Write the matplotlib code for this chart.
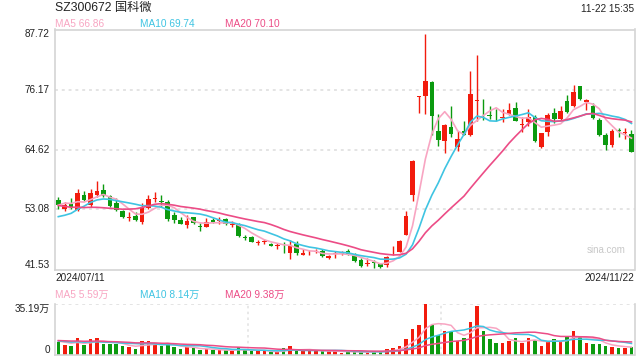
#!/usr/bin/env python
# -*- coding: utf-8 -*-
"""Daily K-line of SZ300672 with MA5/10/20 and a volume panel."""

import matplotlib
matplotlib.use("Agg")
import matplotlib.pyplot as plt
import numpy as np
import pandas as pd

plt.rcParams["font.family"] = ["Liberation Sans", "Noto Sans CJK SC", "DejaVu Sans"]

UP = "#f21b0d"
DOWN = "#0b9a0f"
MA_COLORS = {"MA5": "#f8a5c2", "MA10": "#3fc4e2", "MA20": "#ec4c86"}
BORDER = "#d4d4d4"
GRID = "#e4e4e4"

TITLE = "SZ300672 国科微"
STAMP = "11-22 15:35"
START_LABEL = "2024/07/11"
END_LABEL = "2024/11/22"
PRICE_TICKS = [87.72, 76.17, 64.62, 53.08, 41.53]
VOL_MAX = 35.19  # 万手
PRICE_MA_TEXT = ["MA5 66.86", "MA10 69.74", "MA20 70.10"]
VOL_MA_TEXT = ["MA5 5.59万", "MA10 8.14万", "MA20 9.38万"]

# closes before the visible window (only feed the moving averages)
pre_close = [57.5, 56.8, 55.9, 56.4, 55.2, 56.9, 57.3, 55.8, 54.6, 53.6,
             51.2, 49.8, 48.6, 48.9, 49.0, 51.9, 53.8, 54.6, 55.3]
pre_volume = [10.2, 9.8, 11.4, 10.6, 9.5, 10.9, 12.1, 10.3, 9.7, 10.4,
              9.9, 10.8, 9.6, 10.1, 9.4, 10.7, 9.8, 9.2, 10.0]

open_ = [54.91, 53.12, 54.08, 52.98, 55.87, 54.00, 55.87, 56.83, 55.62, 54.38,
         52.79, 51.50, 51.83, 50.73, 53.31, 55.10, 54.71, 54.46, 52.02, 51.06,
         50.15, 51.58, 49.90, 49.77, 51.06, 50.86, 51.25, 50.12, 50.23, 47.78,
         47.85, 46.63, 46.82, 46.44, 45.99, 45.57, 44.65, 46.44, 44.38, 44.45,
         44.95, 45.09, 43.68, 44.57, 44.57, 45.03, 44.32, 43.36, 42.65, 42.91,
         42.53, 42.40, 44.42, 44.99, 48.23, 55.93, 74.80, 74.98, 77.56, 68.13,
         66.32, 68.90, 65.05, 68.13, 67.47, 73.96, 72.48, 71.26, 70.55, 70.74,
         71.46, 72.61, 69.40, 69.98, 70.94, 65.16, 68.05, 71.59, 70.44, 74.02,
         72.99, 76.84, 73.82, 72.99, 70.30, 67.42, 65.49, 68.32, 67.80, 67.61]
high = [55.42, 54.58, 55.23, 56.96, 56.58, 57.08, 58.56, 57.93, 55.81, 55.35,
        52.98, 52.60, 52.60, 54.38, 55.81, 56.50, 55.87, 54.91, 52.65, 51.69,
        52.02, 51.69, 50.54, 51.38, 51.50, 51.69, 51.50, 50.92, 50.42, 48.17,
        47.99, 47.21, 47.46, 46.57, 46.57, 46.88, 47.21, 47.02, 45.42, 45.28,
        45.57, 45.42, 44.32, 45.15, 45.09, 45.47, 44.65, 43.68, 43.68, 43.36,
        42.84, 44.13, 46.05, 47.21, 52.85, 62.60, 75.00, 86.85, 77.75, 71.46,
        69.53, 72.94, 68.24, 70.05, 79.67, 82.75, 74.34, 72.94, 72.48, 72.48,
        73.57, 73.71, 70.94, 72.36, 71.26, 67.86, 71.59, 72.56, 72.99, 75.11,
        77.04, 76.84, 74.29, 73.63, 70.63, 67.74, 68.51, 68.70, 68.70, 68.38]
low = [53.12, 52.79, 53.23, 52.73, 54.77, 53.50, 55.42, 55.54, 53.62, 52.73,
       51.50, 50.80, 50.92, 50.29, 53.12, 54.58, 53.50, 50.86, 50.42, 50.23,
       49.46, 50.29, 49.00, 49.77, 50.54, 50.23, 50.10, 49.65, 47.73, 47.15,
       46.82, 46.30, 46.44, 46.05, 45.47, 44.65, 43.49, 44.32, 44.38, 44.38,
       44.65, 43.88, 43.55, 43.68, 44.38, 44.38, 42.97, 41.95, 42.26, 41.88,
       41.87, 42.07, 44.32, 44.90, 48.11, 54.66, 71.65, 71.46, 67.47, 65.24,
       63.95, 66.97, 64.39, 67.36, 67.16, 70.05, 70.36, 70.49, 70.17, 69.92,
       71.21, 70.10, 68.05, 69.15, 66.13, 64.97, 67.22, 69.78, 70.30, 71.71,
       72.75, 74.15, 72.23, 70.44, 67.22, 64.53, 65.05, 67.09, 66.65, 64.10]
close = [53.94, 53.88, 53.50, 56.31, 54.91, 56.25, 56.64, 55.73, 53.75, 52.92,
         51.69, 51.62, 51.06, 53.50, 55.04, 55.35, 54.46, 51.19, 51.06, 50.34,
         50.86, 50.54, 49.71, 50.73, 50.73, 50.99, 50.23, 50.25, 48.03, 47.59,
         46.88, 46.76, 46.95, 46.11, 46.18, 45.38, 46.25, 44.65, 44.70, 44.57,
         45.09, 44.13, 44.13, 44.70, 44.70, 44.51, 43.17, 42.26, 42.78, 42.78,
         42.07, 43.88, 44.51, 47.02, 51.77, 62.47, 74.98, 77.75, 71.01, 66.51,
         69.28, 67.61, 66.65, 67.47, 75.31, 74.02, 72.36, 71.13, 70.44, 70.88,
         72.23, 70.17, 69.53, 70.82, 66.32, 67.74, 71.26, 70.44, 72.09, 71.90,
         75.75, 74.40, 74.15, 70.63, 67.42, 65.49, 68.24, 68.19, 67.93, 64.20]
volume = [9.26, 6.95, 6.25, 11.81, 6.95, 11.11, 11.81, 7.64, 7.64, 7.64,
          6.25, 5.56, 4.17, 9.95, 9.72, 8.33, 6.25, 7.64, 5.56, 4.17,
          5.56, 4.86, 3.47, 4.17, 3.47, 3.47, 3.47, 2.78, 5.56, 3.47,
          2.78, 2.78, 2.78, 2.08, 2.08, 4.86, 6.25, 3.47, 2.78, 2.78,
          2.78, 3.47, 2.78, 2.78, 1.62, 2.32, 2.32, 2.32, 2.32, 2.32,
          2.32, 4.17, 5.32, 6.25, 11.11, 18.06, 20.84, 35.19, 20.84, 14.35,
          16.67, 16.21, 9.95, 11.81, 22.92, 34.03, 16.67, 11.11, 8.57, 8.57,
          9.72, 11.81, 8.57, 11.81, 10.88, 6.25, 9.72, 11.11, 9.72, 13.66,
          16.67, 12.73, 8.57, 7.64, 7.64, 6.25, 5.80, 5.10, 5.20, 5.90]


def moving_averages(pre, values, windows=(5, 10, 20)):
    s = pd.Series(list(pre) + list(values), dtype=float)
    n = len(pre)
    return {f"MA{w}": s.rolling(w, min_periods=1).mean().to_numpy()[n:] for w in windows}


def px(fig_w, fig_h, x, y):
    return x / fig_w, 1 - y / fig_h


def draw_candles(ax, x, o, h, l, c):
    up = c >= o
    colors = np.where(up, UP, DOWN)
    ax.vlines(x, l, h, colors=colors, linewidth=1.0, zorder=2)
    body = np.maximum(np.abs(c - o), 0.12)
    ax.bar(x, body, bottom=np.minimum(o, c), width=0.72, color=colors,
           linewidth=0, zorder=3)


def main():
    W, H = 640, 360
    fig = plt.figure(figsize=(6.4, 3.6), dpi=100)
    fig.patch.set_facecolor("white")

    o, h, l, c = (np.array(a, dtype=float) for a in (open_, high, low, close))
    v = np.array(volume, dtype=float)
    x = np.arange(len(c))
    xlim = (-0.59, 89.47)

    # price panel
    ax = fig.add_axes([54.5 / W, 1 - 269.5 / H, 580 / W, 240 / H])
    draw_candles(ax, x, o, h, l, c)
    for name, line in moving_averages(pre_close, c).items():
        ax.plot(x, line, color=MA_COLORS[name], linewidth=1.2, zorder=4)
    for t in PRICE_TICKS[1:-1]:
        ax.axhline(t, color=GRID, linewidth=1.4, linestyle=(0, (1.5, 2.0)), zorder=0)
    ax.set_xlim(*xlim)
    ax.set_ylim(PRICE_TICKS[-1], PRICE_TICKS[0])
    ax.set_xticks([])
    ax.set_yticks([])
    for s in ax.spines.values():
        s.set_color(BORDER)
        s.set_linewidth(1.2)
    for i, t in enumerate(PRICE_TICKS):
        va = "top" if i == 0 else ("bottom" if i == len(PRICE_TICKS) - 1 else "center")
        ax.text(-0.008, t, f"{t:.2f}", transform=ax.get_yaxis_transform(),
                ha="right", va=va, fontsize=7.2, color="#222222")
    ax.text(0.985, 0.08, "sina.com", transform=ax.transAxes, ha="right",
            va="center", fontsize=7, color="#c8c8c8")

    # volume panel
    vax = fig.add_axes([54.5 / W, 1 - 355.3 / H, 580 / W, 51 / H])
    vcolors = np.where(c >= o, UP, DOWN)
    vax.bar(x, v, width=0.55, color=vcolors, linewidth=0, zorder=2)
    for name, line in moving_averages(pre_volume, v).items():
        vax.plot(x, line, color=MA_COLORS[name], linewidth=1.1, zorder=3)
    vax.set_xlim(*xlim)
    vax.set_ylim(0, VOL_MAX)
    vax.set_xticks([])
    vax.set_yticks([])
    for k in (1, 2):
        vax.axvline(xlim[0] + (xlim[1] - xlim[0]) * k / 3, color=GRID,
                    linewidth=1.2, linestyle=(0, (1.5, 2.0)), zorder=0)
    vax.spines["top"].set_visible(False)
    vax.axhline(VOL_MAX, color=GRID, linewidth=1.4, linestyle=(0, (1.5, 2.0)), zorder=0)
    for k in ("left", "right", "bottom"):
        vax.spines[k].set_color(BORDER)
        vax.spines[k].set_linewidth(1.2)
    vax.text(-0.008, VOL_MAX, f"{VOL_MAX:.2f}万", transform=vax.get_yaxis_transform(),
             ha="right", va="top", fontsize=7.2, color="#222222")
    vax.text(-0.008, 0, "0", transform=vax.get_yaxis_transform(),
             ha="right", va="bottom", fontsize=7.2, color="#222222")

    # header and labels
    fig.text(*px(W, H, 55, 8), TITLE, ha="left", va="center", fontsize=8.8, color="#222222")
    fig.text(*px(W, H, 634, 9), STAMP, ha="right", va="center", fontsize=7.2, color="#222222")
    for xpos, txt, key in zip((55, 140, 225), PRICE_MA_TEXT, ("MA5", "MA10", "MA20")):
        fig.text(*px(W, H, xpos, 24), txt, ha="left", va="center", fontsize=7.3,
                 color=MA_COLORS[key])
    for xpos, txt, key in zip((55, 140, 225), VOL_MA_TEXT, ("MA5", "MA10", "MA20")):
        fig.text(*px(W, H, xpos, 295), txt, ha="left", va="center", fontsize=7.3,
                 color=MA_COLORS[key])
    fig.text(*px(W, H, 55, 278), START_LABEL, ha="left", va="center", fontsize=7.2, color="#222222")
    fig.text(*px(W, H, 634, 278), END_LABEL, ha="right", va="center", fontsize=7.2, color="#222222")

    fig.savefig("out.png", dpi=100)
    plt.close(fig)


if __name__ == "__main__":
    main()
